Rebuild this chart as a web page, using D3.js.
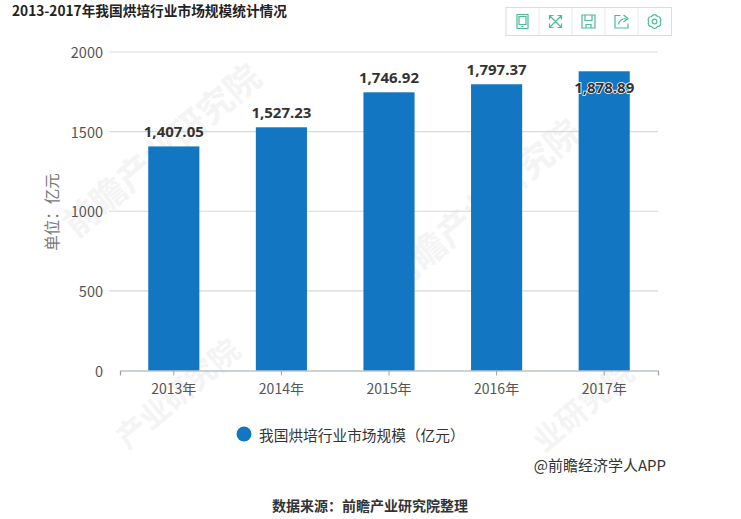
<!DOCTYPE html>
<html><head><meta charset="utf-8">
<script src="https://cdnjs.cloudflare.com/ajax/libs/d3/7.8.5/d3.min.js"></script>
<style>html,body{margin:0;background:#fff}svg{display:block}text{font-family:"Noto Sans CJK SC","Noto Sans",sans-serif}</style>
</head><body><svg id="c" width="741" height="519"></svg>
<script>
const categories=["2013年","2014年","2015年","2016年","2017年"];
const values=[1407.05,1527.23,1746.92,1797.37,1878.89];
const yTicks=[0,500,1000,1500,2000];
const titleText="2013-2017年我国烘培行业市场规模统计情况";
const seriesName="我国烘培行业市场规模（亿元）";
const yAxisName="单位：亿元";
const creditText="@前瞻经济学人APP";
const sourceText="数据来源：前瞻产业研究院整理";
const watermarks=[
  {x:170,y:160,size:35,t:"前瞻产业研究院"},
  {x:490,y:215,size:35,t:"前瞻产业研究院"},
  {x:185,y:402,size:30,t:"产业研究院"},
  {x:590,y:415,size:30,t:"业研究院"}
];

const svg=d3.select("#c");
const x=d3.scaleBand().domain(categories).range([120,658]).paddingInner(.525).paddingOuter(.2625);
const y=d3.scaleLinear().domain([0,2000]).range([370.5,52]);
const fmt=d3.format(",.2f");

// watermarks
svg.append("g").selectAll("text").data(watermarks).join("text")
  .attr("transform",d=>`translate(${d.x},${d.y}) rotate(-40)`)
  .attr("text-anchor","middle").attr("font-size",d=>d.size).attr("font-weight",700)
  .attr("fill","#f4f4f4").text(d=>d.t);

// grid
svg.append("g").selectAll("line").data(yTicks.filter(d=>d>0)).join("line")
  .attr("x1",109).attr("x2",658).attr("y1",d=>y(d)).attr("y2",d=>y(d))
  .attr("stroke","#d9d9d9").attr("stroke-width",1.2);

// y labels
svg.append("g").selectAll("text").data(yTicks).join("text")
  .attr("x",103).attr("y",d=>y(d)+6).attr("text-anchor","end")
  .attr("font-size",14.5).attr("fill","#555").text(d=>d);

// y axis name
svg.append("text").attr("transform","translate(58,212) rotate(-90)")
  .attr("text-anchor","middle").attr("font-size",15.5).attr("fill","#777").text(yAxisName);

// bars
svg.append("g").selectAll("rect").data(values).join("rect")
  .attr("x",(d,i)=>x(categories[i])).attr("width",x.bandwidth())
  .attr("y",d=>y(d)).attr("height",d=>y(0)-y(d)).attr("fill","#1276c2");

// x axis
const xAxis=svg.append("g").attr("transform","translate(0,370.5)")
  .call(d3.axisBottom(x).tickSizeOuter(0).tickSize(5).tickPadding(9));
xAxis.select(".domain").attr("stroke","#9aa5ad").attr("stroke-width",1.2);
xAxis.selectAll(".tick line").attr("stroke","#9aa5ad");
xAxis.selectAll(".tick text").attr("font-size",14).attr("fill","#555");

// value labels
svg.append("g").selectAll("text").data(values).join("text")
  .attr("x",(d,i)=>x(categories[i])+x.bandwidth()/2)
  .attr("y",(d,i)=>i===4?y(d)+22:y(d)-9)
  .attr("text-anchor","middle").attr("font-size",15).attr("font-weight",700)
  .attr("fill","#333").attr("stroke",(d,i)=>i===4?"#fff":"none").attr("stroke-width",1.5)
  .attr("paint-order","stroke")
  .style("font-family","'Open Sans',sans-serif").text(fmt);

// title
svg.append("text").attr("x",12).attr("y",15.5).attr("font-size",13.7).attr("font-weight",700).attr("fill","#222").text(titleText);

// legend
svg.append("circle").attr("cx",244).attr("cy",434).attr("r",7.5).attr("fill","#1276c2");
svg.append("text").attr("x",259).attr("y",441).attr("font-size",14.7).attr("fill","#333").text(seriesName);

// credit, source
svg.append("text").attr("x",666).attr("y",471).attr("text-anchor","end").attr("font-size",15).attr("fill","#333").text(creditText);
svg.append("text").attr("x",370).attr("y",511).attr("text-anchor","middle").attr("font-size",14).attr("font-weight",700).attr("fill","#333").text(sourceText);

// toolbox
const tb=svg.append("g");
tb.append("rect").attr("x",506).attr("y",7.5).attr("width",165.5).attr("height",28).attr("fill","#fff").attr("stroke","#d5e0dc");
const cells=[0,1,2,3,4];
tb.selectAll("line").data(cells.slice(1)).join("line")
  .attr("x1",d=>506+33*d).attr("x2",d=>506+33*d).attr("y1",8).attr("y2",35).attr("stroke","#e6ecea");
const col="#4dbb95";
const ic=tb.selectAll("g").data(cells).join("g")
  .attr("transform",d=>`translate(${522.5+33*d},21.5)`)
  .attr("fill","none").attr("stroke",col).attr("stroke-width",1.2);
const iconPaths=[
 "M-5.5,-7H5.5V7H-5.5ZM-3.5,-5H3.5V3H-3.5ZM-1,5H1",
 "M-6,-6L6,6M6,-6L-6,6M-6,-2V-6H-2M2,-6H6V-2M6,2V6H2M-2,6H-6V2",
 "M-6.5,-6.5H6.5V6.5H-6.5ZM-3.5,-6.5V-1H3.5V-6.5M-2.5,6.5V3H2.5V6.5",
 "M-1,-6H-6.5V6.5H6.5V2M-3,3C-2,-2 1,-3 5,-3M2,-6.5L6.5,-3L2,0.5",
 "M5.8,0A3.2,3.2 0 0,1 2.9,5A3.2,3.2 0 0,1 -2.9,5A3.2,3.2 0 0,1 -5.8,0A3.2,3.2 0 0,1 -2.9,-5A3.2,3.2 0 0,1 2.9,-5A3.2,3.2 0 0,1 5.8,0ZM-2.3,0A2.3,2.3 0 1,0 2.3,0A2.3,2.3 0 1,0 -2.3,0"
];
ic.append("path").attr("d",d=>iconPaths[d]);
</script></body></html>
